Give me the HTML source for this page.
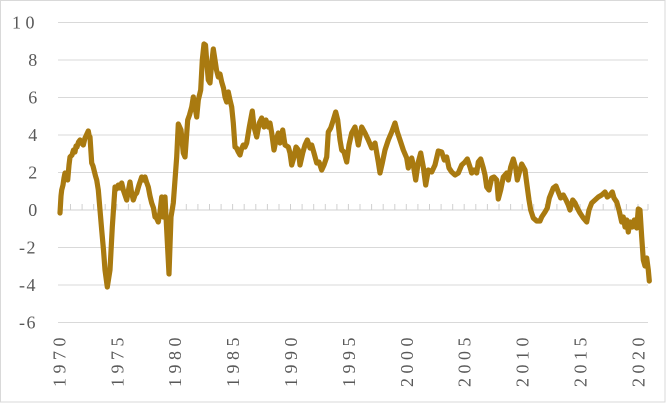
<!DOCTYPE html>
<html>
<head>
<meta charset="utf-8">
<style>
  html, body { margin: 0; padding: 0; background: #ffffff; }
  svg { display: block; }
  text { font-family: "Liberation Serif", "Times New Roman", serif; font-size: 18px; fill: #595959; }
</style>
</head>
<body>
<svg width="670" height="403" viewBox="0 0 670 403" xmlns="http://www.w3.org/2000/svg">
  <rect x="0" y="0" width="670" height="403" fill="#ffffff"/>
  <rect x="0.5" y="0.5" width="664.5" height="401.5" fill="none" stroke="#d9d9d9" stroke-width="1"/>

  <!-- gridlines -->
  <g stroke="#d9d9d9" stroke-width="1">
    <line x1="58" y1="22.5" x2="648" y2="22.5"/>
    <line x1="58" y1="60" x2="648" y2="60"/>
    <line x1="58" y1="97.5" x2="648" y2="97.5"/>
    <line x1="58" y1="135" x2="648" y2="135"/>
    <line x1="58" y1="172.5" x2="648" y2="172.5"/>
    <line x1="58" y1="247.5" x2="648" y2="247.5"/>
    <line x1="58" y1="285" x2="648" y2="285"/>
    <line x1="58" y1="322.5" x2="648" y2="322.5"/>
  </g>
  <!-- zero axis with ticks -->
  <g stroke="#d0d0d0" stroke-width="1">
    <line x1="58" y1="210" x2="648" y2="210"/>
    <path d="M58.9 204V210 M70.5 204V210 M82.1 204V210 M93.7 204V210 M105.2 204V210 M116.8 204V210 M128.4 204V210 M140 204V210 M151.6 204V210 M163.2 204V210 M174.7 204V210 M186.3 204V210 M197.9 204V210 M209.5 204V210 M221.1 204V210 M232.6 204V210 M244.2 204V210 M255.8 204V210 M267.4 204V210 M279 204V210 M290.5 204V210 M302.1 204V210 M313.7 204V210 M325.3 204V210 M336.9 204V210 M348.4 204V210 M360 204V210 M371.6 204V210 M383.2 204V210 M394.8 204V210 M406.3 204V210 M417.9 204V210 M429.5 204V210 M441.1 204V210 M452.7 204V210 M464.2 204V210 M475.8 204V210 M487.4 204V210 M499 204V210 M510.6 204V210 M522.2 204V210 M533.7 204V210 M545.3 204V210 M556.9 204V210 M568.5 204V210 M580.1 204V210 M591.6 204V210 M603.2 204V210 M614.8 204V210 M626.4 204V210 M638 204V210 M648 204V210"/>
  </g>

  <!-- y labels -->
  <text x="12" y="28.5" letter-spacing="4.5">10</text>
  <text x="28.3" y="66">8</text>
  <text x="28.3" y="103.5">6</text>
  <text x="28.3" y="141">4</text>
  <text x="28.3" y="178.5">2</text>
  <text x="28.3" y="216">0</text>
  <text x="19" y="253.5" letter-spacing="1.5">-2</text>
  <text x="19" y="291" letter-spacing="1.5">-4</text>
  <text x="19" y="328.5" letter-spacing="1.5">-6</text>

  <!-- x labels -->
  <g letter-spacing="4.5">
    <text transform="translate(65.4,387) rotate(-90)">1970</text>
    <text transform="translate(123.3,387) rotate(-90)">1975</text>
    <text transform="translate(181.2,387) rotate(-90)">1980</text>
    <text transform="translate(239.1,387) rotate(-90)">1985</text>
    <text transform="translate(297,387) rotate(-90)">1990</text>
    <text transform="translate(354.9,387) rotate(-90)">1995</text>
    <text transform="translate(412.8,387) rotate(-90)">2000</text>
    <text transform="translate(470.7,387) rotate(-90)">2005</text>
    <text transform="translate(528.6,387) rotate(-90)">2010</text>
    <text transform="translate(586.5,387) rotate(-90)">2015</text>
    <text transform="translate(644.4,387) rotate(-90)">2020</text>
  </g>

  <!-- series -->
  <polyline fill="none" stroke="#A97A10" stroke-width="5.2" stroke-linejoin="round" stroke-linecap="round" points="
60,213 61,196 61.7,190 63,185 64,178 65,173 66.5,177 67.7,180 69,165 70,157 72,155 73.5,150 75,152 76,146 77,147 78.5,142 80,140 81.5,143 83.3,145 85,138 86,136 88.3,131 89.2,136 90,137
91.7,163 93,166 94,170 95.5,176 96.7,180 98.3,190 100,210 101.7,230 103.5,250 105,270 107.3,287 110,270 112.3,227 115,187
116.5,189 118.3,185 120,188 121.7,183 123.3,190 125,195 126.7,200 128.5,190 130,182 131.5,192 133.3,200 135,195 136.7,193 139,185 141.7,177 143.5,180 145,177 146.5,182 148.3,187
150,196 151.7,203 153.5,208 155,217 156.5,218 158.3,222 160,212 161.7,197 163.3,217 165,197 166.7,230 169,274 171,217 173.3,203 175,180 176.7,157
178.3,124 181,130 183.3,153 185,157 187.7,120 189.5,115 191.7,107 193.3,97 195,107 196.7,117 198.3,100 200.7,90
202.3,60 204,44 205.5,45 207,65 208.3,80 210,83 211.5,65 213.3,49 215,60 216.5,70 218.3,77 220,74 221.7,82 223.5,88 225,97 226.7,102 228.3,92
230,100 231.7,107 233.3,123 235,147 236.5,148 238.3,152 240,155 241.5,149 243.3,145 245,147 246.7,143 249.3,127 252.3,111 254,127 256.7,137
259.3,123 261.7,118 264,127 266,120 268.3,127 270,123 271.7,133 274,150 276,140 278.3,133 280,143
282.7,130 285,145 288.3,147 290,153 291.7,165 294,157 296,147 298.3,150 300,165 302.7,153 305,145
307.3,140 310,148 311.7,145 314,153 316.7,163 319,162 321.7,170 324,165 326.7,157 328.3,132 330.7,128
333.3,120 335.7,112 337.7,120 340,140 341.7,150 344,152 346.7,162 349,145 351.7,133 355,127 358.3,145
361.7,127 365,133 368.3,140 371.7,148 375,143 378.3,162 380,173 382.3,163 385,150 388.3,140 391.7,132
395,123 397.3,132 400,140 403.3,150 406.7,158 408.3,168 411.7,158 413.3,165 415.7,180 418.3,162
420.7,153 423.3,167 425.7,185 428.3,170 431.7,172 435,165 438.3,151 441.7,152 444.3,160 446.7,157
449,168 451.7,172 455,175 458.3,173 461.7,165 465,162 467.3,159 470,167 471.7,173 474,170 476.7,173
478.3,162 480.7,159 483.3,168 485,175 486.7,187 489,190 491.7,178 494,177 496.7,180 498.3,199 500.7,190
503.3,177 506.7,173 508.3,180 510.7,167 513.3,159 515.7,168 517.3,180 520,170 521.7,164 525,170
526.7,183 529,200 530.7,210 533.3,218 536.7,221 540,221 541.7,217 545,212 547.3,208 549.3,198
553.3,188 556,186 558.3,192 560.7,198 563.3,195 566,200 568.3,205 570,210 572.7,200 575,203 577.3,208
580,213 583.3,218 586.7,222 589,210 591.7,203 595,200 598.3,197 601.7,195 605,192 607.3,197 610,195
612.3,192 614,198 616.7,202 619,210 621.7,222 623.3,217 625,227 626.7,220 628.3,232 630,222 632.3,227
634.3,220 636.7,228 638.3,209 640,210 641.7,237 643.3,260 645,266 646.7,258 648.3,270 649.3,281"/>
</svg>
</body>
</html>
